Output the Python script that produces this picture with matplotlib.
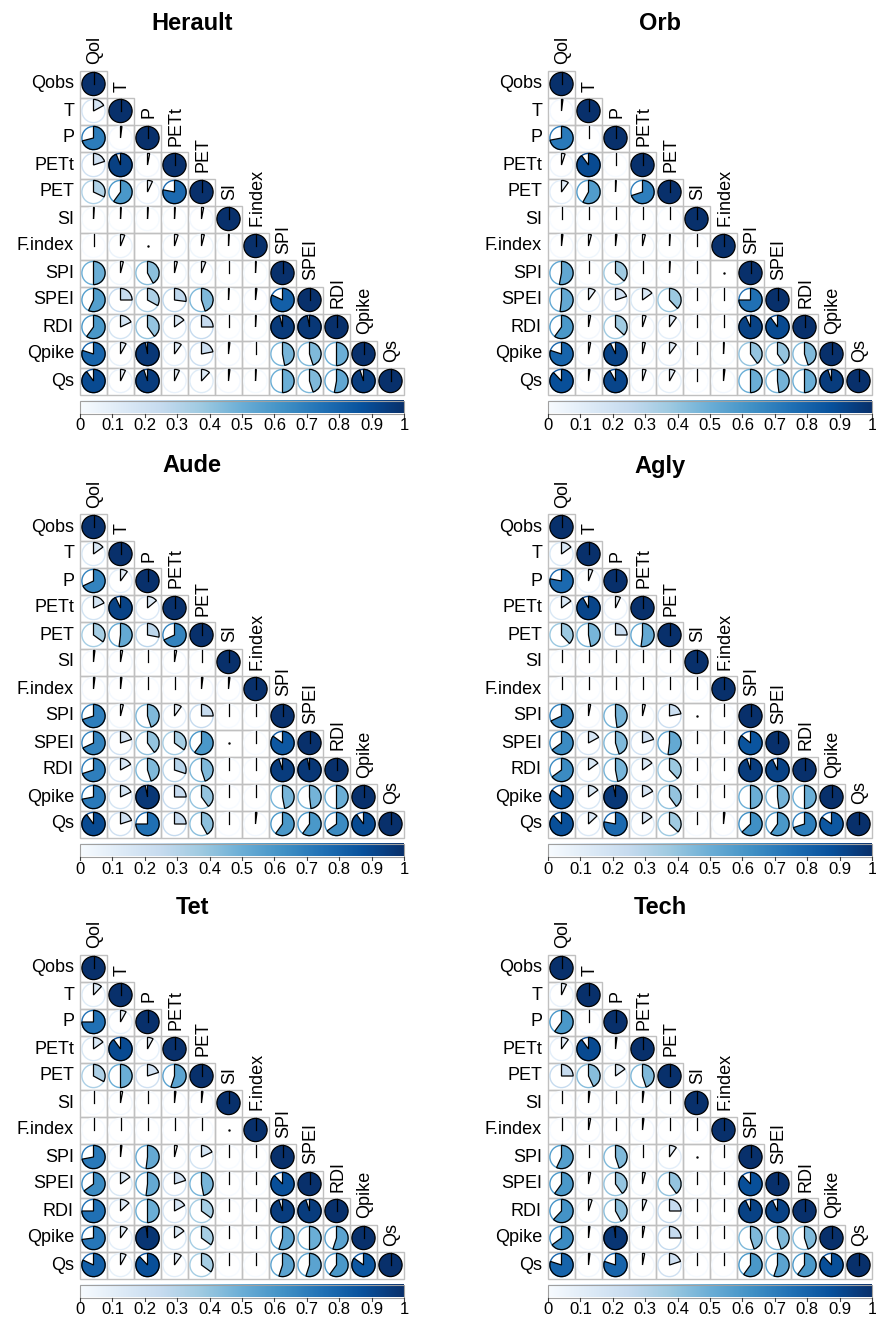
import numpy as np
import matplotlib.pyplot as plt
from matplotlib.patches import Wedge, Circle, Rectangle

plt.rcParams['font.family'] = ['Liberation Sans', 'DejaVu Sans']

nan = np.nan

# row / column names of the correlation matrices
variables = ['Qobs', 'T', 'P', 'PETt', 'PET', 'SI', 'F.index',
             'SPI', 'SPEI', 'RDI', 'Qpike', 'Qs']
col_labels = ['Qol', 'T', 'P', 'PETt', 'PET', 'SI', 'F.index',
              'SPI', 'SPEI', 'RDI', 'Qpike', 'Qs']
titles = ['Herault', 'Orb', 'Aude', 'Agly', 'Tet', 'Tech']

# lower triangle (row i, columns 0..i-1), abs correlation
herault = [
    [],
    [0.17],
    [0.71, 0.02],
    [0.20, 0.94, 0.03],
    [0.32, 0.60, 0.07, 0.78],
    [0.01, 0.01, 0.01, 0.01, 0.03],
    [0.00, 0.06, nan, 0.05, 0.04, 0.01],
    [0.50, 0.04, 0.42, 0.04, 0.06, 0.00, 0.01],
    [0.57, 0.25, 0.33, 0.27, 0.45, 0.01, 0.02, 0.82],
    [0.60, 0.18, 0.40, 0.15, 0.25, 0.00, 0.01, 0.96, 0.97],
    [0.80, 0.08, 0.97, 0.10, 0.22, 0.02, 0.00, 0.47, 0.45, 0.50],
    [0.90, 0.07, 0.95, 0.07, 0.12, 0.02, 0.01, 0.50, 0.45, 0.53, 0.95],
]
orb = [
    [],
    [0.02],
    [0.72, 0.00],
    [0.05, 0.90, 0.00],
    [0.10, 0.58, 0.01, 0.70],
    [0.00, 0.00, 0.00, 0.00, 0.00],
    [0.02, 0.04, 0.02, 0.04, 0.01, 0.00],
    [0.53, 0.00, 0.37, 0.00, 0.01, 0.00, nan],
    [0.52, 0.10, 0.20, 0.15, 0.38, 0.00, 0.00, 0.75],
    [0.60, 0.03, 0.37, 0.05, 0.10, 0.00, 0.00, 0.93, 0.90],
    [0.80, 0.03, 0.93, 0.04, 0.10, 0.00, 0.01, 0.40, 0.40, 0.45],
    [0.88, 0.02, 0.92, 0.05, 0.08, 0.00, 0.02, 0.50, 0.48, 0.50, 0.95],
]
aude = [
    [],
    [0.15],
    [0.68, 0.10],
    [0.18, 0.93, 0.14],
    [0.35, 0.52, 0.28, 0.68],
    [0.02, 0.03, 0.00, 0.03, 0.00],
    [0.02, 0.02, 0.00, 0.00, 0.02, 0.02],
    [0.70, 0.04, 0.45, 0.10, 0.25, 0.00, 0.00],
    [0.68, 0.20, 0.40, 0.35, 0.60, nan, 0.00, 0.85],
    [0.70, 0.17, 0.45, 0.30, 0.45, 0.00, 0.00, 0.95, 0.97],
    [0.72, 0.18, 0.97, 0.25, 0.40, 0.00, 0.00, 0.47, 0.48, 0.50],
    [0.90, 0.20, 0.75, 0.25, 0.42, 0.00, 0.02, 0.60, 0.60, 0.65, 0.90],
]
agly = [
    [],
    [0.15],
    [0.78, 0.06],
    [0.15, 0.92, 0.07],
    [0.38, 0.47, 0.25, 0.52],
    [0.00, 0.00, 0.00, 0.00, 0.00],
    [0.00, 0.00, 0.00, 0.00, 0.00, 0.00],
    [0.68, 0.03, 0.48, 0.04, 0.22, nan, 0.00],
    [0.65, 0.17, 0.45, 0.20, 0.52, 0.00, 0.00, 0.86],
    [0.65, 0.15, 0.47, 0.15, 0.38, 0.00, 0.00, 0.95, 0.93],
    [0.85, 0.15, 0.97, 0.17, 0.40, 0.00, 0.00, 0.50, 0.48, 0.50],
    [0.88, 0.13, 0.78, 0.15, 0.37, 0.00, 0.02, 0.63, 0.60, 0.70, 0.85],
]
tet = [
    [],
    [0.12],
    [0.75, 0.08],
    [0.15, 0.90, 0.08],
    [0.33, 0.50, 0.20, 0.55],
    [0.00, 0.03, 0.00, 0.02, 0.02],
    [0.00, 0.00, 0.00, 0.00, 0.00, nan],
    [0.72, 0.02, 0.52, 0.04, 0.18, 0.00, 0.00],
    [0.65, 0.15, 0.52, 0.20, 0.47, 0.00, 0.00, 0.88],
    [0.75, 0.13, 0.50, 0.17, 0.35, 0.00, 0.00, 0.95, 0.95],
    [0.73, 0.10, 0.98, 0.15, 0.35, 0.00, 0.00, 0.55, 0.50, 0.55],
    [0.82, 0.08, 0.88, 0.10, 0.35, 0.00, 0.00, 0.55, 0.55, 0.60, 0.85],
]
tech = [
    [],
    [0.07],
    [0.60, 0.00],
    [0.10, 0.90, 0.02],
    [0.25, 0.43, 0.15, 0.45],
    [0.00, 0.02, 0.00, 0.02, 0.00],
    [0.00, 0.03, 0.00, 0.02, 0.00, 0.00],
    [0.57, 0.00, 0.45, 0.00, 0.10, nan, 0.00],
    [0.60, 0.03, 0.40, 0.04, 0.40, 0.00, 0.00, 0.88],
    [0.62, 0.05, 0.42, 0.06, 0.25, 0.00, 0.00, 0.93, 0.93],
    [0.65, 0.02, 0.98, 0.03, 0.25, 0.00, 0.00, 0.45, 0.45, 0.45],
    [0.80, 0.02, 0.80, 0.03, 0.20, 0.00, 0.00, 0.60, 0.55, 0.60, 0.88],
]
panels = [herault, orb, aude, agly, tet, tech]

cbar_ticks = np.round(np.arange(0, 1.01, 0.1), 1)
cbar_labels = ['0', '0.1', '0.2', '0.3', '0.4', '0.5', '0.6', '0.7', '0.8', '0.9', '1']

W, H = 876, 1322
fig = plt.figure(figsize=(W / 100, H / 100), dpi=100)
ax = fig.add_axes([0, 0, 1, 1])
cmap = plt.get_cmap('Blues')

cell = 27.0
rad = 0.43 * cell
x_origin = [80, 548]
y_top = [70.5, 513.5, 954.5]
title_x = [192, 660]


def draw_panel(ax, lower, title, x0, top):
    n = len(variables)
    # y is measured from the top in pixels, flipped here
    def cy_of(i):
        return H - (top + (i + 0.5) * cell)

    for i in range(n):
        cy = cy_of(i)
        for j in range(i + 1):
            cx = x0 + (j + 0.5) * cell
            ax.add_patch(Rectangle((x0 + j * cell, cy - cell / 2), cell, cell,
                                   fill=False, edgecolor='#C0C0C0', lw=1.0, zorder=1))
            if j == i:
                v = 1.0
            else:
                v = lower[i][j]
            if np.isnan(v):
                ax.plot(cx, cy, marker='.', ms=1.5, color='black', zorder=3)
                continue
            col = cmap(v)
            if v >= 0.999:
                ax.add_patch(Circle((cx, cy), rad, facecolor=col, edgecolor='black',
                                    lw=0.9, zorder=2))
                ax.plot([cx, cx], [cy, cy + rad], color='black', lw=0.9, zorder=3)
                continue
            ax.add_patch(Circle((cx, cy), rad, facecolor='white', edgecolor=col,
                                lw=1.0, zorder=2))
            if v > 0.004:
                ax.add_patch(Wedge((cx, cy), rad, 90 - 360 * v, 90, facecolor=col,
                                   edgecolor='black', lw=0.9, zorder=3))
            else:
                ax.plot([cx, cx], [cy, cy + rad], color='black', lw=0.9, zorder=3)

        # row label on the left, column label above the diagonal
        ax.text(x0 - 6, cy, variables[i], ha='right', va='center', fontsize=13)
        ax.text(x0 + (i + 0.55) * cell, H - (top + i * cell) + 6, col_labels[i],
                rotation=90, ha='center', va='bottom', fontsize=13)

    ax.text(title_pos[0], title_pos[1], title, ha='center', va='center',
            fontsize=17, fontweight='bold')

    # colour legend
    cb_top = H - (top + n * cell + 6)
    cb_bot = cb_top - 13
    x1 = x0 + n * cell
    grad = np.linspace(0, 1, 256).reshape(1, -1)
    ax.imshow(grad, extent=[x0, x1, cb_bot, cb_top], cmap=cmap, vmin=0, vmax=1,
              aspect='auto', zorder=1)
    ax.add_patch(Rectangle((x0, cb_bot), x1 - x0, cb_top - cb_bot, fill=False,
                           edgecolor='#A0A0A0', lw=0.8, zorder=2))
    for t, lab in zip(cbar_ticks, cbar_labels):
        tx = x0 + t * (x1 - x0)
        ax.plot([tx, tx], [cb_bot, cb_bot - 3], color='#404040', lw=0.8)
        ax.text(tx, cb_bot - 5, lab, ha='center', va='top', fontsize=12)


for k, (lower, title) in enumerate(zip(panels, titles)):
    x0 = x_origin[k % 2]
    top = y_top[k // 2]
    title_pos = (title_x[k % 2], H - (top + 0.5 * cell - 61))
    draw_panel(ax, lower, title, x0, top)

ax.set_xlim(0, W)
ax.set_ylim(0, H)
ax.axis('off')
fig.savefig('out.png', dpi=100, facecolor='white')
